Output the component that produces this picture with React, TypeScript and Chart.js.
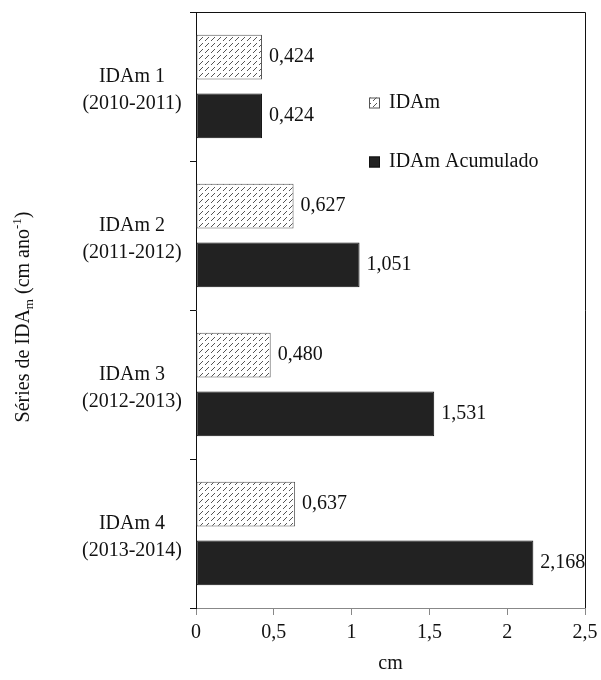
import React, { useEffect, useRef } from "react";
import { Chart, registerables } from "chart.js";

Chart.register(...registerables);

const categories: string[][] = [
  ["IDAm 1", "(2010-2011)"],
  ["IDAm 2", "(2011-2012)"],
  ["IDAm 3", "(2012-2013)"],
  ["IDAm 4", "(2013-2014)"],
];
const idamValues = [0.424, 0.627, 0.48, 0.637];
const acumuladoValues = [0.424, 1.051, 1.531, 2.168];
const xTicks = [0, 0.5, 1, 1.5, 2, 2.5];
const seriesNames = ["IDAm", "IDAm Acumulado"];

const FONT = "'Liberation Serif', 'Times New Roman', serif";

function makeHatch(): CanvasPattern | string {
  const c = document.createElement("canvas");
  c.width = 6;
  c.height = 6;
  const g = c.getContext("2d");
  if (!g) return "#fff";
  g.fillStyle = "#ffffff";
  g.fillRect(0, 0, 6, 6);
  g.strokeStyle = "#555555";
  g.lineWidth = 1;
  g.beginPath();
  g.moveTo(1, 5);
  g.lineTo(5, 1);
  g.stroke();
  const p = g.createPattern(c, "repeat");
  return p || "#fff";
}

const fmt = (v: number, d: number) => v.toFixed(d).replace(".", ",");

export default function App() {
  const ref = useRef<HTMLCanvasElement | null>(null);

  useEffect(() => {
    if (!ref.current) return;
    const hatch = makeHatch();

    const extras = {
      id: "extras",
      afterDatasetsDraw(chart: any) {
        const ctx = chart.ctx as CanvasRenderingContext2D;
        const ca = chart.chartArea;
        ctx.save();
        // top and right frame
        ctx.strokeStyle = "#111";
        ctx.lineWidth = 1;
        ctx.beginPath();
        ctx.moveTo(ca.left, ca.top + 0.5);
        ctx.lineTo(ca.right + 0.5, ca.top + 0.5);
        ctx.lineTo(ca.right + 0.5, ca.bottom);
        ctx.stroke();
        // value labels
        ctx.font = `20px ${FONT}`;
        ctx.fillStyle = "#111";
        ctx.textAlign = "left";
        ctx.textBaseline = "middle";
        chart.data.datasets.forEach((ds: any, di: number) => {
          const meta = chart.getDatasetMeta(di);
          meta.data.forEach((el: any, i: number) => {
            ctx.fillText(fmt(ds.data[i], 3), el.x + 7, el.y);
          });
        });
        // legend
        const lx = 369;
        const items = [
          { y: 103, fill: hatch, stroke: "#555" },
          { y: 162, fill: "#222", stroke: "#111" },
        ];
        items.forEach((it, i) => {
          ctx.fillStyle = it.fill as any;
          ctx.fillRect(lx, it.y - 5.5, 11, 11);
          ctx.strokeStyle = it.stroke;
          ctx.strokeRect(lx + 0.5, it.y - 5, 10, 10);
          ctx.fillStyle = "#111";
          ctx.fillText(seriesNames[i], lx + 20, it.y);
        });
        // y title with sub/superscript
        ctx.translate(22, 317);
        ctx.rotate(-Math.PI / 2);
        const parts = [
          { t: "Séries de IDA", f: 20, dy: 0 },
          { t: "m", f: 13, dy: 4 },
          { t: " (cm ano", f: 20, dy: 0 },
          { t: "-1", f: 13, dy: -8 },
          { t: ")", f: 20, dy: 0 },
        ];
        let total = 0;
        parts.forEach((p) => {
          ctx.font = `${p.f}px ${FONT}`;
          total += ctx.measureText(p.t).width;
        });
        let x = -total / 2;
        ctx.textBaseline = "alphabetic";
        parts.forEach((p) => {
          ctx.font = `${p.f}px ${FONT}`;
          ctx.fillText(p.t, x, 7 + p.dy);
          x += ctx.measureText(p.t).width;
        });
        ctx.restore();
      },
    };

    const chart = new Chart(ref.current, {
      type: "bar",
      data: {
        labels: categories,
        datasets: [
          {
            label: seriesNames[0],
            data: idamValues,
            backgroundColor: hatch as any,
            borderColor: "#555",
            borderWidth: 1,
            borderSkipped: false,
            categoryPercentage: 0.79,
            barPercentage: 0.76,
          },
          {
            label: seriesNames[1],
            data: acumuladoValues,
            backgroundColor: "#222",
            borderColor: "#111",
            borderWidth: 1,
            borderSkipped: false,
            categoryPercentage: 0.79,
            barPercentage: 0.76,
          },
        ],
      },
      options: {
        indexAxis: "y",
        responsive: false,
        animation: false,
        devicePixelRatio: 1,
        layout: { padding: { top: 12, right: 16, left: 0, bottom: 0 } },
        plugins: {
          legend: { display: false },
          tooltip: { enabled: false },
        },
        scales: {
          x: {
            type: "linear",
            min: 0,
            max: 2.5,
            afterBuildTicks: (s: any) => {
              s.ticks = xTicks.map((v) => ({ value: v }));
            },
            afterFit: (s: any) => {
              s.height = 72;
              s.paddingLeft = 0;
              s.paddingRight = 0;
            },
            grid: {
              drawOnChartArea: false,
              tickLength: 7,
              color: "#888",
            },
            border: { color: "#888", width: 1 },
            ticks: {
              font: { family: FONT, size: 20 },
              color: "#111",
              padding: 6,
              maxRotation: 0,
              callback: (v: any) => fmt(Number(v), Number(v) % 1 === 0 ? 0 : 1),
            },
            title: {
              display: true,
              text: "cm",
              font: { family: FONT, size: 20 },
              color: "#111",
              padding: { top: 0, bottom: 4 },
            },
          },
          y: {
            type: "category",
            offset: true,
            afterFit: (s: any) => {
              s.width = 196;
              s.paddingTop = 0;
              s.paddingBottom = 0;
            },
            grid: {
              offset: true,
              drawOnChartArea: false,
              tickLength: 6,
              color: "#111",
            },
            border: { color: "#111", width: 1 },
            ticks: {
              font: { family: FONT, size: 20, lineHeight: 1.35 },
              color: "#111",
              crossAlign: "center",
              padding: 8,
              labelOffset: 4,
            },
          },
        },
      },
      plugins: [extras],
    } as any);

    return () => chart.destroy();
  }, []);

  return (
    <div style={{ position: "absolute", left: 0, top: 0, width: 601, height: 680, background: "#fff" }}>
      <canvas ref={ref} width={601} height={680} />
    </div>
  );
}
